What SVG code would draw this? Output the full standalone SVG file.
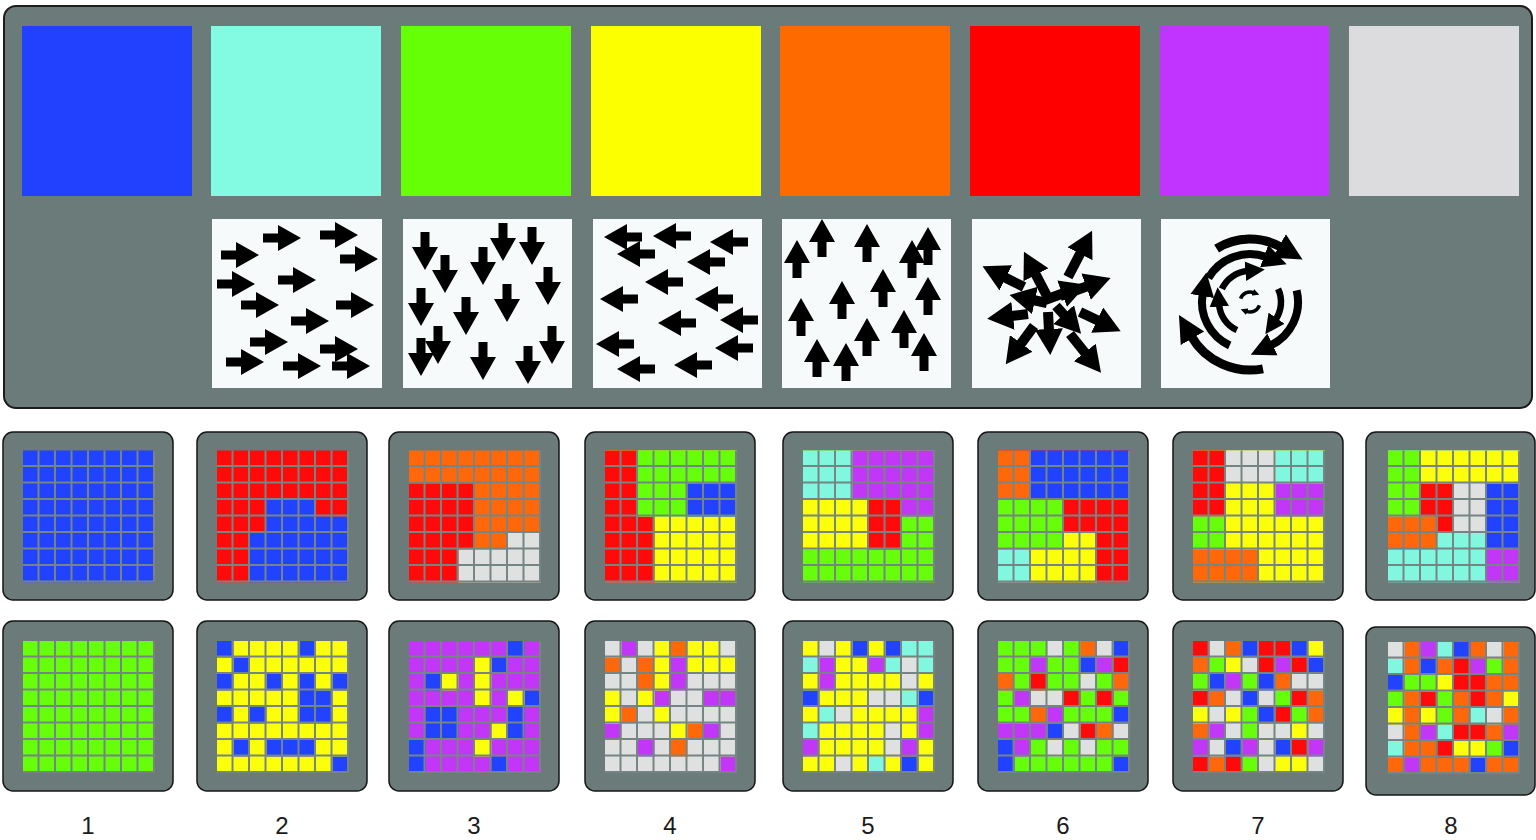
<svg xmlns="http://www.w3.org/2000/svg" xmlns:xlink="http://www.w3.org/1999/xlink" width="1536" height="840" viewBox="0 0 1536 840">
<style>
.b{fill:#2142ff}.a{fill:#80f7de}.g{fill:#66fe0a}.y{fill:#fbff0c}.o{fill:#ff680a}.r{fill:#fe0a0a}.p{fill:#c236f8}.w{fill:#dfe1e1}
.tile{fill:#6b7b7a;stroke:#161616;stroke-width:1.5}
.panel{fill:#f7fafa}
.ar{fill:#000}
.ray{stroke:#000;stroke-width:10;fill:none;marker-end:url(#mh)}
.arc{stroke:#000;fill:none;marker-end:url(#sh)}
.lbl{font-family:"Liberation Sans",Arial,sans-serif;font-size:24px;fill:#1a1a1a;text-anchor:middle}
</style>
<defs>
<path id="gl" d="M0.94 0V8M1.94 0V8M2.94 0V8M3.94 0V8M4.94 0V8M5.94 0V8M6.94 0V8M7.94 0V8M0 0.94H8M0 1.94H8M0 2.94H8M0 3.94H8M0 4.94H8M0 5.94H8M0 6.94H8M0 7.94H8" stroke="#768584" stroke-width="0.12" fill="none"/>
<path id="ah" d="M-19,-4.5H-4V-13L19,0L-4,13V4.5H-19Z"/>
<marker id="mh" markerUnits="userSpaceOnUse" viewBox="0 0 26 28" markerWidth="26" markerHeight="28" refX="2" refY="14" orient="auto"><path d="M0,0L26,14L0,28Z" fill="#000"/></marker>
<marker id="sh" viewBox="0 0 10 10" markerWidth="3" markerHeight="3.2" refX="1" refY="5" orient="auto"><path d="M0,0L10,5L0,10Z" fill="#000"/></marker>
<marker id="sh2" viewBox="0 0 10 10" markerWidth="2" markerHeight="2.4" refX="1" refY="5" orient="auto"><path d="M0,0L10,5L0,10Z" fill="#000"/></marker>
</defs>

<g id="palette">
<rect x="4" y="6" width="1528" height="402" rx="12" fill="#6b7b7a" stroke="#1c1c1c" stroke-width="2"/>
</g>
<g id="swatches">
<rect id="sw-blue" x="22" y="26" width="170" height="170" fill="#2141ff"/>
<rect id="sw-aqua" x="211" y="26" width="170" height="170" fill="#83fae2"/>
<rect id="sw-green" x="401" y="26" width="170" height="170" fill="#67ff06"/>
<rect id="sw-yellow" x="591" y="26" width="170" height="170" fill="#fbff00"/>
<rect id="sw-orange" x="780" y="26" width="170" height="170" fill="#ff6a00"/>
<rect id="sw-red" x="970" y="26" width="170" height="170" fill="#fe0000"/>
<rect id="sw-purple" x="1160" y="26" width="169" height="170" fill="#c134ff"/>
<rect id="sw-gray" x="1349" y="26" width="170" height="170" fill="#dcdbdd"/>
</g>

<g id="panel-right">
<rect class="panel" x="212" y="219" width="170" height="169"/>
<g class="ar">
<use href="#ah" transform="translate(282 238)"/><use href="#ah" transform="translate(339 235)"/><use href="#ah" transform="translate(240 255)"/><use href="#ah" transform="translate(359 259)"/><use href="#ah" transform="translate(236 284)"/><use href="#ah" transform="translate(297 280)"/><use href="#ah" transform="translate(260 305)"/><use href="#ah" transform="translate(355 305)"/><use href="#ah" transform="translate(310 321)"/><use href="#ah" transform="translate(269 342)"/><use href="#ah" transform="translate(339 349)"/><use href="#ah" transform="translate(245 362)"/><use href="#ah" transform="translate(302 366)"/><use href="#ah" transform="translate(351 366)"/>
</g>
</g>
<g id="panel-down">
<rect class="panel" x="403" y="219" width="169" height="169"/>
<g class="ar">
<use href="#ah" transform="translate(425 251) rotate(90)"/><use href="#ah" transform="translate(445 274) rotate(90)"/><use href="#ah" transform="translate(483 266) rotate(90)"/><use href="#ah" transform="translate(503 242) rotate(90)"/><use href="#ah" transform="translate(532 246) rotate(90)"/><use href="#ah" transform="translate(548 286) rotate(90)"/><use href="#ah" transform="translate(421 307) rotate(90)"/><use href="#ah" transform="translate(466 316) rotate(90)"/><use href="#ah" transform="translate(507 303) rotate(90)"/><use href="#ah" transform="translate(421 357) rotate(90)"/><use href="#ah" transform="translate(438 345) rotate(90)"/><use href="#ah" transform="translate(483 361) rotate(90)"/><use href="#ah" transform="translate(528 365) rotate(90)"/><use href="#ah" transform="translate(552 345) rotate(90)"/>
</g>
</g>
<g id="panel-left">
<rect class="panel" x="593" y="219" width="169" height="169"/>
<g class="ar">
<use href="#ah" transform="translate(623 237) rotate(180)"/><use href="#ah" transform="translate(636 254) rotate(180)"/><use href="#ah" transform="translate(672 236) rotate(180)"/><use href="#ah" transform="translate(729 242) rotate(180)"/><use href="#ah" transform="translate(706 262) rotate(180)"/><use href="#ah" transform="translate(664 282) rotate(180)"/><use href="#ah" transform="translate(619 299) rotate(180)"/><use href="#ah" transform="translate(714 299) rotate(180)"/><use href="#ah" transform="translate(739 320) rotate(180)"/><use href="#ah" transform="translate(677 323) rotate(180)"/><use href="#ah" transform="translate(615 344) rotate(180)"/><use href="#ah" transform="translate(734 348) rotate(180)"/><use href="#ah" transform="translate(636 369) rotate(180)"/><use href="#ah" transform="translate(693 365) rotate(180)"/>
</g>
</g>
<g id="panel-up">
<rect class="panel" x="782" y="219" width="169" height="169"/>
<g class="ar">
<use href="#ah" transform="translate(797 259) rotate(-90)"/><use href="#ah" transform="translate(822 238) rotate(-90)"/><use href="#ah" transform="translate(867 243) rotate(-90)"/><use href="#ah" transform="translate(912 259) rotate(-90)"/><use href="#ah" transform="translate(928 246) rotate(-90)"/><use href="#ah" transform="translate(883 288) rotate(-90)"/><use href="#ah" transform="translate(842 300) rotate(-90)"/><use href="#ah" transform="translate(928 296) rotate(-90)"/><use href="#ah" transform="translate(801 317) rotate(-90)"/><use href="#ah" transform="translate(867 337) rotate(-90)"/><use href="#ah" transform="translate(904 329) rotate(-90)"/><use href="#ah" transform="translate(817 358) rotate(-90)"/><use href="#ah" transform="translate(846 362) rotate(-90)"/><use href="#ah" transform="translate(924 352) rotate(-90)"/>
</g>
</g>
<g id="panel-radial">
<rect class="panel" x="972" y="219" width="169" height="169"/>
<path class="ray" d="M1024 287L1004 277"/>
<path class="ray" d="M1048 298L1035 273"/>
<path class="ray" d="M1068 277L1081 252"/>
<path class="ray" d="M1060 296L1088 286"/>
<path class="ray" d="M1045 300L1064 293"/>
<path class="ray" d="M1080 312L1099 321"/>
<path class="ray" d="M1070 334L1086 354"/>
<path class="ray" d="M1056 306L1065 316"/>
<path class="ray" d="M1048 312L1049 331"/>
<path class="ray" d="M1034 326L1020 345"/>
<path class="ray" d="M1028 314L1011 316"/>
<path class="ray" d="M1047 303L1033 300"/>
</g>
<g id="panel-spiral">
<rect class="panel" x="1161" y="219" width="169" height="169"/>
<path class="arc" stroke-width="9" d="M1216.6 248.6A63 63 0 0 1 1281.5 247.4"/>
<path class="arc" stroke-width="9" d="M1263 368.8A68 68 0 0 1 1191.1 336"/>
<path class="arc" stroke-width="8" d="M1208.4 278A48 48 0 0 1 1266.4 256.9"/>
<path class="arc" stroke-width="8" d="M1229.7 345.5A48 48 0 0 1 1202.7 293.7"/>
<path class="arc" stroke-width="8" d="M1296.6 290.4A48 48 0 0 1 1270.3 345.5"/>
<path class="arc" stroke-width="6.5" d="M1221.9 288.9A31 31 0 0 1 1247.3 271.1"/>
<path class="arc" stroke-width="6.5" d="M1236.9 330.1A31 31 0 0 1 1219.1 304.7"/>
<path class="arc" stroke-width="6.5" d="M1278.1 288.9A31 31 0 0 1 1275.4 319.8"/>
<path stroke="#000" fill="none" stroke-width="3.5" marker-end="url(#sh2)" d="M1240.6 298.6A10 10 0 0 1 1253.4 292.6"/>
<path stroke="#000" fill="none" stroke-width="3.5" marker-end="url(#sh2)" d="M1259.4 305.4A10 10 0 0 1 1246.6 311.4"/>
</g>

<g id="tile-r1-1"><rect class="tile" x="3" y="432" width="170" height="168" rx="10"/>
<g transform="translate(23 450.5) scale(16.5)"><rect class="b" width="8" height="8"/><use href="#gl"/></g></g>
<g id="tile-r1-2"><rect class="tile" x="197" y="432" width="170" height="168" rx="10"/>
<g transform="translate(217 450.5) scale(16.5)"><rect class="r" width="8" height="8"/><path class="b" d="M3 3h3v1h-3zM3 4h5v1h-5zM2 5h6v3h-6z"/><use href="#gl"/></g></g>
<g id="tile-r1-3"><rect class="tile" x="389" y="432" width="170" height="168" rx="10"/>
<g transform="translate(409 450.5) scale(16.5)"><rect class="o" width="8" height="8"/><path class="r" d="M0 2h4v4h-4zM0 6h3v2h-3z"/><path class="w" d="M6 5h2v1h-2zM3 6h5v2h-5z"/><use href="#gl"/></g></g>
<g id="tile-r1-4"><rect class="tile" x="585" y="432" width="170" height="168" rx="10"/>
<g transform="translate(605 450.5) scale(16.5)"><rect class="y" width="8" height="8"/><path class="r" d="M0 0h2v8h-2zM2 4h1v4h-1z"/><path class="g" d="M2 0h6v4h-6z"/><path class="b" d="M5 2h3v2h-3z"/><use href="#gl"/></g></g>
<g id="tile-r1-5"><rect class="tile" x="783" y="432" width="170" height="168" rx="10"/>
<g transform="translate(803 450.5) scale(16.5)"><rect class="g" width="8" height="8"/><path class="a" d="M0 0h3v3h-3z"/><path class="p" d="M3 0h5v3h-5zM6 3h2v1h-2z"/><path class="y" d="M0 3h4v3h-4z"/><path class="r" d="M4 3h2v3h-2z"/><use href="#gl"/></g></g>
<g id="tile-r1-6"><rect class="tile" x="978" y="432" width="170" height="168" rx="10"/>
<g transform="translate(998 450.5) scale(16.5)"><rect class="r" width="8" height="8"/><path class="o" d="M0 0h2v3h-2z"/><path class="b" d="M2 0h6v3h-6z"/><path class="g" d="M0 3h4v3h-4z"/><path class="y" d="M4 5h2v1h-2zM2 6h4v2h-4z"/><path class="a" d="M0 6h2v2h-2z"/><use href="#gl"/></g></g>
<g id="tile-r1-7"><rect class="tile" x="1173" y="432" width="170" height="168" rx="10"/>
<g transform="translate(1193 450.5) scale(16.5)"><rect class="y" width="8" height="8"/><path class="r" d="M0 0h2v4h-2z"/><path class="w" d="M2 0h3v2h-3z"/><path class="a" d="M5 0h3v2h-3z"/><path class="p" d="M5 2h3v2h-3z"/><path class="g" d="M0 4h2v2h-2z"/><path class="o" d="M0 6h4v2h-4z"/><use href="#gl"/></g></g>
<g id="tile-r1-8"><rect class="tile" x="1366" y="432" width="169" height="168" rx="10"/>
<g transform="translate(1388 450.5) scale(16.5)"><rect class="a" width="8" height="8"/><path class="g" d="M0 0h2v4h-2z"/><path class="y" d="M2 0h6v2h-6z"/><path class="r" d="M2 2h2v2h-2zM3 4h1v1h-1z"/><path class="w" d="M4 2h2v3h-2z"/><path class="b" d="M6 2h2v4h-2z"/><path class="o" d="M0 4h3v2h-3z"/><path class="p" d="M6 6h2v2h-2z"/><use href="#gl"/></g></g>

<g id="tile-r2-1"><rect class="tile" x="3" y="621" width="170" height="170" rx="10"/>
<g transform="translate(23 641) scale(16.5)"><rect class="g" width="8" height="8"/><use href="#gl"/></g></g>
<g id="tile-r2-2"><rect class="tile" x="197" y="621" width="170" height="170" rx="10"/>
<g transform="translate(217 641) scale(16.5)"><rect class="y" width="8" height="8"/><path class="b" d="M0 0h1v1h-1zM5 0h1v1h-1zM1 1h1v1h-1zM0 2h1v1h-1zM3 2h1v1h-1zM5 2h1v1h-1zM7 2h1v1h-1zM5 3h2v2h-2zM0 4h1v1h-1zM2 4h1v1h-1zM1 6h1v1h-1zM3 6h3v1h-3zM7 7h1v1h-1z"/><use href="#gl"/></g></g>
<g id="tile-r2-3"><rect class="tile" x="389" y="621" width="170" height="170" rx="10"/>
<g transform="translate(409 641) scale(16.5)"><rect class="p" width="8" height="8"/><path class="b" d="M6 0h1v1h-1zM5 1h1v1h-1zM1 2h1v1h-1zM7 3h1v1h-1zM1 4h2v2h-2zM6 4h1v2h-1zM0 6h1v2h-1zM5 7h1v1h-1z"/><path class="y" d="M4 1h1v3h-1zM2 2h1v1h-1zM6 3h1v1h-1zM5 5h1v1h-1zM4 6h1v1h-1z"/><use href="#gl"/></g></g>
<g id="tile-r2-4"><rect class="tile" x="585" y="621" width="170" height="170" rx="10"/>
<g transform="translate(605 641) scale(16.5)"><rect class="w" width="8" height="8"/><path class="p" d="M1 0h1v1h-1zM4 1h1v2h-1zM3 3h1v1h-1zM6 3h2v1h-2zM0 5h1v1h-1zM6 5h1v1h-1zM2 6h1v1h-1zM7 7h1v1h-1z"/><path class="y" d="M3 0h1v3h-1zM5 0h2v1h-2zM5 1h3v1h-3zM0 3h1v2h-1zM2 3h1v1h-1zM3 4h1v1h-1zM4 5h1v1h-1z"/><path class="o" d="M4 0h1v1h-1zM0 1h1v1h-1zM2 1h1v2h-1zM1 4h1v1h-1zM5 5h1v1h-1zM4 6h1v1h-1z"/><use href="#gl"/></g></g>
<g id="tile-r2-5"><rect class="tile" x="783" y="621" width="170" height="170" rx="10"/>
<g transform="translate(803 641) scale(16.5)"><rect class="y" width="8" height="8"/><path class="w" d="M1 0h1v1h-1zM6 1h1v2h-1zM4 3h2v1h-2zM2 4h1v1h-1zM5 5h1v2h-1zM2 7h1v1h-1z"/><path class="b" d="M3 0h1v1h-1zM5 0h1v1h-1zM0 3h1v1h-1zM7 3h1v1h-1zM6 7h1v1h-1z"/><path class="a" d="M6 0h2v1h-2zM0 1h1v1h-1zM5 1h1v1h-1zM7 1h1v1h-1zM6 3h1v1h-1zM1 4h1v1h-1zM0 5h1v1h-1zM4 7h1v1h-1z"/><path class="p" d="M1 1h1v2h-1zM4 1h1v1h-1zM7 4h1v2h-1zM0 6h1v1h-1zM6 6h1v1h-1z"/><use href="#gl"/></g></g>
<g id="tile-r2-6"><rect class="tile" x="978" y="621" width="170" height="170" rx="10"/>
<g transform="translate(998 641) scale(16.5)"><rect class="g" width="8" height="8"/><path class="w" d="M3 0h1v1h-1zM6 0h1v1h-1zM5 2h1v1h-1zM2 3h2v1h-2zM4 5h1v1h-1zM7 5h1v1h-1zM3 6h1v1h-1zM5 6h1v1h-1z"/><path class="o" d="M5 0h1v1h-1zM0 2h1v1h-1zM7 2h1v1h-1zM2 4h1v1h-1zM6 5h1v1h-1z"/><path class="b" d="M7 0h1v1h-1zM5 1h1v1h-1zM7 4h1v1h-1zM3 5h1v1h-1zM0 6h1v2h-1zM7 7h1v1h-1z"/><path class="p" d="M2 1h1v1h-1zM6 1h1v1h-1zM1 3h1v1h-1zM3 4h1v1h-1zM0 5h3v1h-3zM1 6h1v1h-1z"/><path class="r" d="M7 1h1v1h-1zM2 2h1v1h-1zM4 3h1v1h-1zM6 3h1v1h-1zM5 5h1v1h-1z"/><use href="#gl"/></g></g>
<g id="tile-r2-7"><rect class="tile" x="1173" y="621" width="170" height="170" rx="10"/>
<g transform="translate(1193 641) scale(16.5)"><rect class="w" width="8" height="8"/><path class="r" d="M0 0h1v1h-1zM4 0h2v1h-2zM4 1h1v1h-1zM6 1h1v1h-1zM0 3h1v1h-1zM6 3h1v1h-1zM5 4h1v1h-1zM6 6h1v1h-1zM0 7h1v1h-1zM2 7h1v1h-1z"/><path class="o" d="M2 0h1v1h-1zM0 1h1v1h-1zM5 2h1v1h-1zM1 3h1v1h-1zM7 3h1v2h-1zM0 5h1v1h-1zM1 7h1v1h-1z"/><path class="b" d="M3 0h1v1h-1zM6 0h1v1h-1zM7 1h1v1h-1zM1 2h1v1h-1zM4 2h1v1h-1zM3 3h1v1h-1zM4 4h1v1h-1zM2 6h1v1h-1zM5 6h1v1h-1z"/><path class="y" d="M7 0h1v1h-1zM2 1h1v1h-1zM0 4h1v1h-1zM2 4h1v1h-1zM6 5h1v1h-1zM5 7h2v1h-2z"/><path class="g" d="M1 1h1v1h-1zM0 2h1v1h-1zM3 2h1v1h-1zM5 3h1v1h-1zM3 4h1v2h-1zM6 4h1v1h-1zM3 7h1v1h-1z"/><path class="p" d="M5 1h1v1h-1zM2 2h1v1h-1zM1 5h1v1h-1zM0 6h1v1h-1zM3 6h1v1h-1zM7 6h1v1h-1z"/><use href="#gl"/></g></g>
<g id="tile-r2-8"><rect class="tile" x="1366" y="627" width="169" height="168" rx="10"/>
<g transform="translate(1388 642) scale(16.5)"><rect class="o" width="8" height="8"/><path class="w" d="M0 0h1v1h-1zM6 0h1v1h-1zM6 4h1v1h-1zM0 5h1v1h-1z"/><path class="p" d="M2 0h1v1h-1zM5 1h1v1h-1zM2 5h1v1h-1zM7 5h1v1h-1zM1 7h1v1h-1z"/><path class="a" d="M3 0h1v1h-1zM0 1h1v1h-1zM5 4h1v1h-1zM3 5h1v1h-1zM0 6h1v1h-1z"/><path class="b" d="M4 0h1v1h-1zM2 1h1v1h-1zM0 2h1v1h-1zM7 6h1v1h-1zM5 7h1v1h-1z"/><path class="r" d="M4 1h1v1h-1zM4 2h2v1h-2zM2 3h1v1h-1zM5 3h1v1h-1zM4 5h2v1h-2zM3 6h1v1h-1z"/><path class="g" d="M6 1h1v1h-1zM1 2h2v1h-2zM0 3h1v1h-1zM3 3h1v2h-1zM6 6h1v1h-1z"/><path class="y" d="M3 2h1v1h-1zM7 3h1v1h-1zM0 4h1v1h-1zM2 4h1v1h-1zM4 6h2v1h-2z"/><use href="#gl"/></g></g>

<g id="labels">
<text class="lbl" x="88" y="834">1</text>
<text class="lbl" x="282" y="834">2</text>
<text class="lbl" x="474" y="834">3</text>
<text class="lbl" x="670" y="834">4</text>
<text class="lbl" x="868" y="834">5</text>
<text class="lbl" x="1063" y="834">6</text>
<text class="lbl" x="1258" y="834">7</text>
<text class="lbl" x="1451" y="834">8</text>
</g>
</svg>
